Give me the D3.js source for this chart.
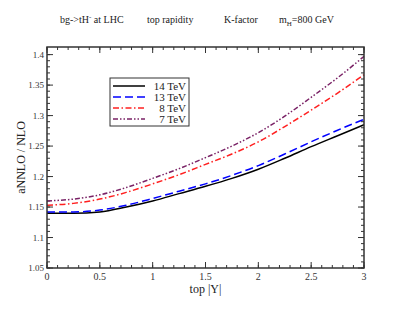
<!DOCTYPE html>
<html>
<head>
<meta charset="utf-8">
<script src="https://cdn.jsdelivr.net/npm/d3@7"></script>
<style>
  body { margin: 0; background: #fff; }
  svg { display: block; font-family: "Liberation Serif", "Times New Roman", serif; }
</style>
</head>
<body>
<div id="chart"></div>
<script>
// rapidity points and K-factor per collider energy
var rapidity = [0, 0.25, 0.5, 0.75, 1.0, 1.25, 1.5, 1.75, 2.0, 2.25, 2.5, 2.75, 3.0];
var k14 = [1.140, 1.140, 1.142, 1.150, 1.160, 1.172, 1.184, 1.197, 1.212, 1.230, 1.249, 1.267, 1.285];
var k13 = [1.142, 1.142, 1.145, 1.153, 1.164, 1.176, 1.188, 1.202, 1.218, 1.237, 1.257, 1.276, 1.294];
var k8  = [1.153, 1.156, 1.163, 1.174, 1.188, 1.203, 1.220, 1.237, 1.257, 1.282, 1.309, 1.337, 1.367];
var k7  = [1.160, 1.163, 1.170, 1.182, 1.197, 1.213, 1.231, 1.250, 1.272, 1.299, 1.330, 1.362, 1.397];
var seriesNames = ["14 TeV", "13 TeV", "8 TeV", "7 TeV"];
var xTicks = [0, 0.5, 1, 1.5, 2, 2.5, 3];
var yTicks = [1.05, 1.1, 1.15, 1.2, 1.25, 1.3, 1.35, 1.4];

var series = [
  { name: seriesNames[0], values: k14, color: "#000000", dash: null },
  { name: seriesNames[1], values: k13, color: "#0000ff", dash: "8,4" },
  { name: seriesNames[2], values: k8,  color: "#ff2020", dash: "6,2.5,1.5,2.5" },
  { name: seriesNames[3], values: k7,  color: "#7a2266", dash: "5,2,1.5,2,1.5,2" }
];

var width = 409, height = 316;
var margin = { top: 47, right: 45, bottom: 48, left: 47 };
var w = width - margin.left - margin.right;
var h = height - margin.top - margin.bottom;

var svg = d3.select("#chart").append("svg")
  .attr("width", width)
  .attr("height", height);

var x = d3.scaleLinear().domain([0, 3]).range([0, w]);
var y = d3.scaleLinear().domain([1.05, 1.4125]).range([h, 0]);

var g = svg.append("g").attr("transform", "translate(" + margin.left + "," + margin.top + ")");

// minor + major ticks, pointing inward on all four sides
var xMinor = d3.range(0, 3.0001, 0.1);
var yMinor = d3.range(1.05, 1.41, 0.01);
var tickColor = "#333";

function drawTicks(vals, len, isX) {
  vals.forEach(function (v) {
    if (isX) {
      var px = x(v);
      g.append("line").attr("x1", px).attr("x2", px).attr("y1", h).attr("y2", h - len).attr("stroke", tickColor);
      g.append("line").attr("x1", px).attr("x2", px).attr("y1", 0).attr("y2", len).attr("stroke", tickColor);
    } else {
      var py = y(v);
      g.append("line").attr("x1", 0).attr("x2", len).attr("y1", py).attr("y2", py).attr("stroke", tickColor);
      g.append("line").attr("x1", w).attr("x2", w - len).attr("y1", py).attr("y2", py).attr("stroke", tickColor);
    }
  });
}
drawTicks(xMinor, 3, true);
drawTicks(xTicks, 6, true);
drawTicks(yMinor, 3, false);
drawTicks(yTicks, 6, false);

// tick labels
g.selectAll(".xl").data(xTicks).enter().append("text")
  .attr("x", d => x(d)).attr("y", h + 12)
  .attr("text-anchor", "middle")
  .attr("font-size", 10).attr("fill", "#333")
  .text(d => d);

g.selectAll(".yl").data(yTicks).enter().append("text")
  .attr("x", -3).attr("y", d => y(d) + 3)
  .attr("text-anchor", "end")
  .attr("font-size", 9).attr("fill", "#333")
  .text(d => d3.format(".3~f")(d));

// curves
var line = d3.line()
  .x((d, i) => x(rapidity[i]))
  .y(d => y(d))
  .curve(d3.curveMonotoneX);

series.forEach(function (s) {
  g.append("path")
    .attr("d", line(s.values))
    .attr("fill", "none")
    .attr("stroke", s.color)
    .attr("stroke-width", 1.5)
    .attr("stroke-dasharray", s.dash);
});

// frame
g.append("rect").attr("width", w).attr("height", h)
  .attr("fill", "none").attr("stroke", "#333").attr("stroke-width", 1.5);

// legend
var lg = svg.append("g").attr("transform", "translate(110,78)");
lg.append("rect").attr("width", 79).attr("height", 48)
  .attr("fill", "#fff").attr("stroke", "#333").attr("stroke-width", 1);
series.forEach(function (s, i) {
  var ly = 8 + i * 11;
  lg.append("line").attr("x1", 3).attr("x2", 35).attr("y1", ly).attr("y2", ly)
    .attr("stroke", s.color).attr("stroke-width", 1.5)
    .attr("stroke-dasharray", s.dash);
  lg.append("text").attr("x", 76).attr("y", ly + 4)
    .attr("text-anchor", "end").attr("font-size", 11).attr("fill", "#222")
    .text(s.name);
});

// title
var title = svg.append("text").attr("y", 23).attr("font-size", 10).attr("fill", "#222");
title.append("tspan").attr("x", 60).text("bg->tH");
title.append("tspan").attr("dy", -4).attr("font-size", 7).text("-");
title.append("tspan").attr("dy", 4).text(" at LHC");
svg.append("text").attr("x", 147).attr("y", 23).attr("font-size", 10).attr("fill", "#222").text("top rapidity");
svg.append("text").attr("x", 224).attr("y", 23).attr("font-size", 10).attr("fill", "#222").text("K-factor");
var mh = svg.append("text").attr("x", 279).attr("y", 23).attr("font-size", 10).attr("fill", "#222");
mh.append("tspan").text("m");
mh.append("tspan").attr("dy", 3).attr("font-size", 7).text("H");
mh.append("tspan").attr("dy", -3).text("=800 GeV");

// axis titles
svg.append("text")
  .attr("x", margin.left + w / 2).attr("y", 293)
  .attr("text-anchor", "middle").attr("font-size", 12).attr("fill", "#222")
  .text("top  |Y|");
svg.append("text")
  .attr("transform", "translate(25," + (margin.top + h / 2) + ") rotate(-90)")
  .attr("text-anchor", "middle").attr("font-size", 12).attr("fill", "#222")
  .text("aNNLO / NLO");
</script>
</body>
</html>
